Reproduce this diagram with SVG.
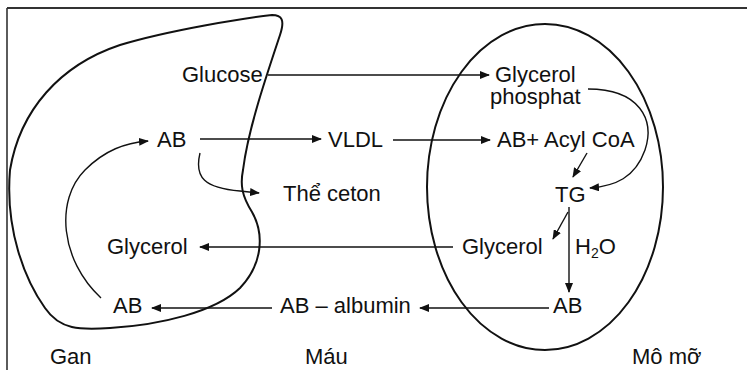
<svg xmlns="http://www.w3.org/2000/svg" width="747" height="370" viewBox="0 0 747 370">
<style>
text{font-family:"Liberation Sans",Arial,sans-serif;font-size:22px;fill:#111}
.c{fill:none;stroke:#111;stroke-width:1.4}
.b{fill:none;stroke:#111;stroke-width:2}
</style>
<defs>
<marker id="ah" viewBox="0 0 10 8" refX="9" refY="4" markerWidth="10" markerHeight="8" markerUnits="userSpaceOnUse" orient="auto">
<path d="M0,0 L10,4 L0,8 Z" fill="#111"/>
</marker>
</defs>
<rect width="747" height="370" fill="#fff"/>
<g id="frame">
<line x1="7" y1="8" x2="747" y2="8" stroke="#333" stroke-width="2"/>
<line x1="7" y1="8" x2="7" y2="370" stroke="#333" stroke-width="1.6"/>
</g>
<g id="gan-shape">
<path class="b" d="M272,15 C245,18 170,30 120,45 C60,65 20,110 10,170 C5,230 25,280 45,308 C60,330 80,330 110,328 C160,325 215,312 240,288 C262,265 265,235 252,212 C242,196 240,185 243,170 C248,130 265,80 280,35 C285,20 282,15 272,15 Z"/>
</g>
<g id="momo-shape">
<ellipse class="b" cx="545" cy="187" rx="118" ry="163"/>
</g>
<g id="connectors">
<line class="c" x1="268" y1="75" x2="489" y2="75" marker-end="url(#ah)"/>
<line class="c" x1="200" y1="139" x2="321" y2="139" marker-end="url(#ah)"/>
<line class="c" x1="393" y1="140" x2="490" y2="140" marker-end="url(#ah)"/>
<path class="c" d="M588,89 C640,89 655,120 645,150 C635,178 615,186 590,188" marker-end="url(#ah)"/>
<line class="c" x1="587" y1="153" x2="573" y2="177" marker-end="url(#ah)"/>
<line class="c" x1="569" y1="207" x2="569" y2="292" marker-end="url(#ah)"/>
<line class="c" x1="568" y1="212" x2="553" y2="239" marker-end="url(#ah)"/>
<line class="c" x1="453" y1="247" x2="200" y2="247" marker-end="url(#ah)"/>
<line class="c" x1="549" y1="308" x2="420" y2="308" marker-end="url(#ah)"/>
<line class="c" x1="272" y1="308" x2="152" y2="308" marker-end="url(#ah)"/>
<path class="c" d="M101,298 C60,260 55,200 85,170 C105,150 125,143 148,141" marker-end="url(#ah)"/>
<path class="c" d="M200,153 C194,178 205,188 240,191 L259,193" marker-end="url(#ah)"/>
</g>
<g id="glucose"><text x="182" y="82">Glucose</text></g>
<g id="glycerol-phosphat"><text x="495" y="82">Glycerol</text><text x="490" y="104">phosphat</text></g>
<g id="ab-gan"><text x="157" y="147">AB</text></g>
<g id="vldl"><text x="328" y="147">VLDL</text></g>
<g id="ab-acylcoa"><text x="497" y="147">AB+ Acyl CoA</text></g>
<g id="the-ceton"><text x="283" y="201">Thể ceton</text></g>
<g id="tg"><text x="555" y="202">TG</text></g>
<g id="glycerol-gan"><text x="107" y="254">Glycerol</text></g>
<g id="glycerol-momo"><text x="462" y="254">Glycerol</text></g>
<g id="h2o"><text x="575" y="254">H<tspan font-size="14" dy="4">2</tspan><tspan dy="-4">O</tspan></text></g>
<g id="ab-gan-2"><text x="113" y="313">AB</text></g>
<g id="ab-albumin"><text x="280" y="313">AB – albumin</text></g>
<g id="ab-momo"><text x="553" y="313">AB</text></g>
<g id="labels">
<text x="50" y="364">Gan</text>
<text x="305" y="364">Máu</text>
<text x="632" y="364">Mô mỡ</text>
</g>
</svg>
